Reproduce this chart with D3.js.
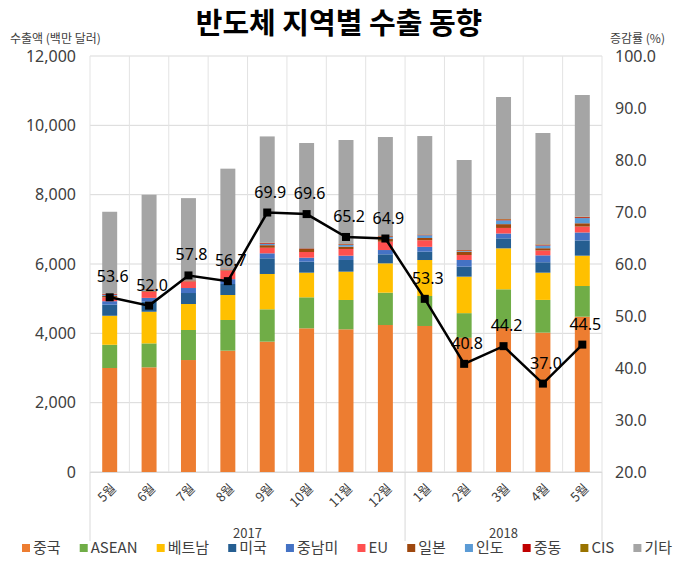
<!DOCTYPE html>
<html><head><meta charset="utf-8">
<script src="https://cdn.jsdelivr.net/npm/d3@7"></script>
<style>
body{margin:0;background:#fff;}
text{font-family:"Noto Sans CJK KR","Noto Sans",sans-serif;}
</style></head>
<body><svg id="c" width="681" height="562"></svg>
<script>
const months = ["5월","6월","7월","8월","9월","10월","11월","12월","1월","2월","3월","4월","5월"];
const years = ["2017","2018"];
const yearSpans = [[0,7],[8,12]];
const seriesNames = ["중국","ASEAN","베트남","미국","중남미","EU","일본","인도","중동","CIS","기타"];
const colors = ["#ED7D31","#70AD47","#FFC000","#255E91","#4472C4","#FF5050","#9E480E","#5B9BD5","#C00000","#997300","#A5A5A5"];
const china   = [3000,3020,3230,3500,3760,4145,4116,4240,4212,3870,4150,4020,4480];
const asean   = [ 670, 690, 866, 885, 933, 894, 846, 933, 865, 712,1120, 944, 885];
const vietnam = [ 837, 913, 750, 721,1019, 711, 817, 846,1038,1053,1182, 786, 875];
const usa     = [ 320, 290, 317, 317, 452, 317, 337, 260, 240, 288, 288, 300, 440];
const latam   = [ 100, 110, 144, 140, 144, 115, 124, 124, 140, 193, 140, 200, 230];
const eu      = [ 110, 180, 190, 250, 160, 164, 193, 240, 190, 144, 160, 140, 170];
const japan   = [  40,  30,  20,  30,  75,  87,  67,  87,  65,  96, 110,  65,  95];
const india   = [  35,  25,  10,  15,  40,  12,  50,  50,  80,  20, 110,  80, 150];
const mideast = [  20,  12,   7,  10,  20,  10,  17,  18,  15,  18,  25,  20,  25];
const cis     = [  10,   7,   4,   7,  11,   5,  10,  10,  10,  10,  13,  13,  15];
const others  = [2365,2721,2362,2875,3066,3030,3000,2855,2836,2596,3519,3211,3510];
const growth  = [53.6,52.0,57.8,56.7,69.9,69.6,65.2,64.9,53.3,40.8,44.2,37.0,44.5];
const leftTicks = [0,2000,4000,6000,8000,10000,12000];
const rightTicks = [20,30,40,50,60,70,80,90,100];

const seriesVals = [china,asean,vietnam,usa,latam,eu,japan,india,mideast,cis,others];
const table = months.map((m,i)=>{const o={idx:i}; seriesNames.forEach((s,j)=>o[s]=seriesVals[j][i]); return o;});

const svg = d3.select("#c");
const L=90,R=602,T=56,B=472;
const x = d3.scaleBand().domain(d3.range(months.length)).range([L,R]).paddingInner(0.62).paddingOuter(0.31);
const y = d3.scaleLinear().domain([0,12000]).range([B,T]);
const y2 = d3.scaleLinear().domain([20,100]).range([B,T]);

// gridlines
svg.append("g").selectAll("line").data(leftTicks).join("line")
  .attr("x1",L).attr("x2",R).attr("y1",d=>y(d)).attr("y2",d=>y(d))
  .attr("stroke","#D9D9D9").attr("stroke-width",1);
const bounds = d3.range(months.length+1).map(i=>L+i*x.step());
svg.append("g").selectAll("line").data(bounds).join("line")
  .attr("x1",d=>d).attr("x2",d=>d).attr("y1",T).attr("y2",B)
  .attr("stroke","#E3E3E3").attr("stroke-width",1);

// stacked bars
const stack = d3.stack().keys(seriesNames)(table);
svg.append("g").selectAll("g").data(stack).join("g").attr("fill",(d,i)=>colors[i])
  .selectAll("rect").data(d=>d).join("rect")
  .attr("x",d=>x(d.data.idx)).attr("width",x.bandwidth())
  .attr("y",d=>y(d[1])).attr("height",d=>y(d[0])-y(d[1]));

// x axis line and category separators
svg.append("line").attr("x1",L).attr("x2",R).attr("y1",B+0.5).attr("y2",B+0.5).attr("stroke","#D9D9D9");
const sepIdx = [0, yearSpans[1][0], months.length];
svg.append("g").selectAll("line").data(sepIdx).join("line")
  .attr("x1",d=>L+d*x.step()).attr("x2",d=>L+d*x.step()).attr("y1",B).attr("y2",541)
  .attr("stroke","#D9D9D9");

// left axis
const yAxis = d3.axisLeft(y).tickValues(leftTicks).tickSize(0).tickPadding(14).tickFormat(d3.format(","));
const ga = svg.append("g").attr("transform",`translate(${L},0)`).call(yAxis);
ga.select(".domain").remove();
ga.selectAll("text").attr("font-size",16).attr("fill","#404040").style("font-family","'Noto Sans','Open Sans',sans-serif");
// right axis
const y2Axis = d3.axisRight(y2).tickValues(rightTicks).tickSize(0).tickPadding(13).tickFormat(d3.format(".1f"));
const gb = svg.append("g").attr("transform",`translate(${R},0)`).call(y2Axis);
gb.select(".domain").remove();
gb.selectAll("text").attr("font-size",16).attr("fill","#404040").style("font-family","'Noto Sans','Open Sans',sans-serif");

// x labels
svg.append("g").selectAll("text").data(months).join("text")
  .attr("transform",(d,i)=>`translate(${x(i)+x.bandwidth()/2+4},${B+14}) rotate(-45)`)
  .attr("text-anchor","end").attr("dy","0.35em").attr("font-size",13).attr("fill","#404040").text(d=>d);

// year labels
svg.append("g").selectAll("text").data(years).join("text")
  .attr("x",(d,i)=>(x(yearSpans[i][0])+x(yearSpans[i][1])+x.bandwidth())/2)
  .attr("y",538).attr("text-anchor","middle").attr("font-size",13).attr("fill","#404040").text(d=>d);

// line
const cx = i=>x(i)+x.bandwidth()/2;
svg.append("path").datum(growth).attr("fill","none").attr("stroke","#000").attr("stroke-width",2.5)
  .attr("d",d3.line().x((d,i)=>cx(i)).y(d=>y2(d)));
svg.append("g").selectAll("rect").data(growth).join("rect")
  .attr("x",(d,i)=>cx(i)-4).attr("y",d=>y2(d)-4).attr("width",8).attr("height",8).attr("fill","#000");
svg.append("g").selectAll("text").data(growth).join("text")
  .attr("x",(d,i)=>cx(i)+3).attr("y",d=>y2(d)-15).attr("text-anchor","middle")
  .attr("font-size",16).attr("fill","#000").style("font-family","'Noto Sans','Open Sans',sans-serif")
  .text(d=>d3.format(".1f")(d));

// titles
svg.append("text").attr("x",339).attr("y",34).attr("text-anchor","middle").attr("font-size",29).attr("font-weight","bold").attr("fill","#000").text("반도체 지역별 수출 동향");
svg.append("text").attr("x",10).attr("y",43).attr("font-size",12).attr("fill","#404040").text("수출액 (백만 달러)");
svg.append("text").attr("x",610).attr("y",43).attr("font-size",12).attr("fill","#404040").text("증감률 (%)");

// legend
const lg = svg.append("g");
const items = lg.selectAll("g").data(seriesNames).join("g");
items.append("rect").attr("width",8).attr("height",8).attr("y",-4).attr("fill",(d,i)=>colors[i]);
items.append("text").attr("x",11).attr("dy","0.35em").attr("font-size",15).attr("fill","#404040").text(d=>d);
const widths = [];
items.each(function(){ widths.push(11+this.querySelector("text").getComputedTextLength()); });
const startX=22, endX=672;
const gap = (endX-startX-d3.sum(widths))/(seriesNames.length-1);
let px=startX;
items.attr("transform",(d,i)=>{const t=`translate(${px},548)`; px+=widths[i]+gap; return t;});
</script></body></html>
